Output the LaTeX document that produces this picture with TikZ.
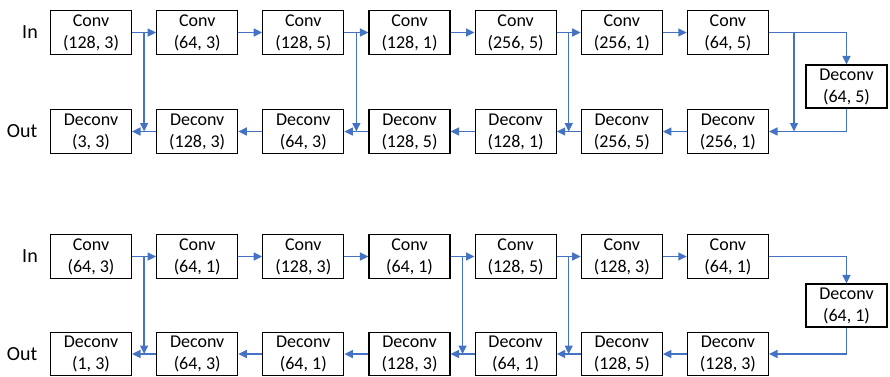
\documentclass[tikz,border=0pt]{standalone}
\usepackage{fontspec}
\setmainfont{Carlito}
\usetikzlibrary{arrows.meta,calc}
\definecolor{lnblue}{HTML}{4472C4}
\begin{document}
\begin{tikzpicture}[x=1pt,y=-1pt,
  box/.style={draw=black, line width=1.2pt, minimum width=81pt, minimum height=44pt,
    inner sep=0pt, align=center, font=\fontsize{18}{22}\selectfont,
    execute at begin node={\rule{0pt}{15pt}}},
  conn/.style={draw=lnblue, line width=1.4pt, -{Triangle[length=8.5pt,width=8pt]}},
  side/.style={font=\fontsize{20}{24}\selectfont, inner sep=0pt}]
\useasboundingbox (0,0) rectangle (890,376);
% ---------- upper diagram ----------
\node[side] (inA)  at (30,32.5) {In};
\node[side] (outA) at (22,131.5) {Out};
\node[box] (a1) at (91,32.5)    {Conv\\(128, 3)};
\node[box] (a2) at (197.2,32.5) {Conv\\(64, 3)};
\node[box] (a3) at (303.3,32.5) {Conv\\(128, 5)};
\node[box] (a4) at (409.5,32.5) {Conv\\(128, 1)};
\node[box] (a5) at (515.6,32.5) {Conv\\(256, 5)};
\node[box] (a6) at (621.8,32.5) {Conv\\(256, 1)};
\node[box] (a7) at (727.9,32.5) {Conv\\(64, 5)};
\node[box,minimum height=43pt] (ad) at (846.5,86.5) {Deconv\\(64, 5)};
\node[box] (b1) at (91,131.5)    {Deconv\\(3, 3)};
\node[box] (b2) at (197.2,131.5) {Deconv\\(128, 3)};
\node[box] (b3) at (303.3,131.5) {Deconv\\(64, 3)};
\node[box] (b4) at (409.5,131.5) {Deconv\\(128, 5)};
\node[box] (b5) at (515.6,131.5) {Deconv\\(128, 1)};
\node[box] (b6) at (621.8,131.5) {Deconv\\(256, 5)};
\node[box] (b7) at (727.9,131.5) {Deconv\\(256, 1)};
\draw[conn] (a1) -- (a2);
\draw[conn] (a2) -- (a3);
\draw[conn] (a3) -- (a4);
\draw[conn] (a4) -- (a5);
\draw[conn] (a5) -- (a6);
\draw[conn] (a6) -- (a7);
\draw[conn] (a7.east) -| (ad.north);
\draw[conn] (ad.south) |- (b7.east);
\draw[conn] (b7) -- (b6);
\draw[conn] (b6) -- (b5);
\draw[conn] (b5) -- (b4);
\draw[conn] (b4) -- (b3);
\draw[conn] (b3) -- (b2);
\draw[conn] (b2) -- (b1);
\coordinate (ka1) at ($(a1.east)!0.5!(a2.west)$);
\coordinate (ka2) at ($(a3.east)!0.5!(a4.west)$);
\coordinate (ka3) at ($(a5.east)!0.5!(a6.west)$);
\coordinate (ka4) at ($(a7.east)+(25,0)$);
\draw[conn] (ka1) -- (ka1 |- b1);
\draw[conn] (ka2) -- (ka2 |- b1);
\draw[conn] (ka3) -- (ka3 |- b1);
\draw[conn] (ka4) -- (ka4 |- b1);
% ---------- lower diagram ----------
\node[side] (inB)  at (30,256) {In};
\node[side] (outB) at (22,354) {Out};
\node[box] (c1) at (91,256.5)    {Conv\\(64, 3)};
\node[box] (c2) at (197.2,256.5) {Conv\\(64, 1)};
\node[box] (c3) at (303.3,256.5) {Conv\\(128, 3)};
\node[box] (c4) at (409.5,256.5) {Conv\\(64, 1)};
\node[box] (c5) at (515.6,256.5) {Conv\\(128, 5)};
\node[box] (c6) at (621.8,256.5) {Conv\\(128, 3)};
\node[box] (c7) at (727.9,256.5) {Conv\\(64, 1)};
\node[box,minimum height=43pt] (cd) at (846.5,305.5) {Deconv\\(64, 1)};
\node[box,minimum height=43pt] (e1) at (91,354)    {Deconv\\(1, 3)};
\node[box,minimum height=43pt] (e2) at (197.2,354) {Deconv\\(64, 3)};
\node[box,minimum height=43pt] (e3) at (303.3,354) {Deconv\\(64, 1)};
\node[box,minimum height=43pt] (e4) at (409.5,354) {Deconv\\(128, 3)};
\node[box,minimum height=43pt] (e5) at (515.6,354) {Deconv\\(64, 1)};
\node[box,minimum height=43pt] (e6) at (621.8,354) {Deconv\\(128, 5)};
\node[box,minimum height=43pt] (e7) at (727.9,354) {Deconv\\(128, 3)};
\draw[conn] (c1) -- (c2);
\draw[conn] (c2) -- (c3);
\draw[conn] (c3) -- (c4);
\draw[conn] (c4) -- (c5);
\draw[conn] (c5) -- (c6);
\draw[conn] (c6) -- (c7);
\draw[conn] (c7.east) -| (cd.north);
\draw[conn] (cd.south) |- (e7.east);
\draw[conn] (e7) -- (e6);
\draw[conn] (e6) -- (e5);
\draw[conn] (e5) -- (e4);
\draw[conn] (e4) -- (e3);
\draw[conn] (e3) -- (e2);
\draw[conn] (e2) -- (e1);
\coordinate (kc1) at ($(c1.east)!0.5!(c2.west)$);
\coordinate (kc2) at ($(c4.east)!0.5!(c5.west)$);
\coordinate (kc3) at ($(c5.east)!0.5!(c6.west)$);
\draw[conn] (kc1) -- (kc1 |- e1);
\draw[conn] (kc2) -- (kc2 |- e1);
\draw[conn] (kc3) -- (kc3 |- e1);
\end{tikzpicture}
\end{document}
